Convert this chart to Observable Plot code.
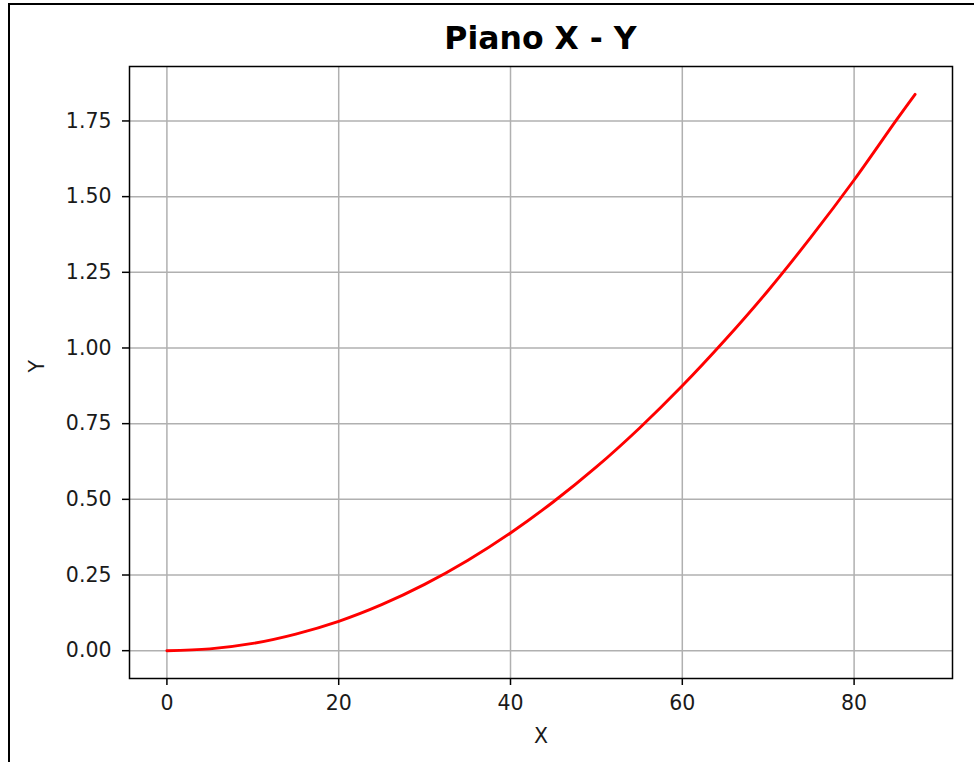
<!DOCTYPE html>
<html>
<head>
<meta charset="utf-8">
<script src="https://cdn.jsdelivr.net/npm/d3@7"></script>
<script src="https://cdn.jsdelivr.net/npm/@observablehq/plot@0.6"></script>
<style>
  html, body { margin: 0; padding: 0; background: #fff; }
  #wrap { position: relative; width: 974px; height: 762px; overflow: hidden; background: #fff; }
  #border { position: absolute; left: 7.5px; top: 3px; width: 1000px; height: 800px;
            border-left: 2.5px solid #000; border-top: 2.2px solid #000; box-sizing: border-box; pointer-events: none; }
  #title { position: absolute; left: 129px; width: 823px; top: 18px; text-align: center;
           font-family: "DejaVu Sans", sans-serif; font-weight: bold; font-size: 31.5px; line-height: 40px; color: #000; }
  #chart { position: absolute; left: 0; top: 0; }
</style>
</head>
<body>
<div id="wrap">
  <div id="chart"></div>
  <div id="title">Piano X - Y</div>
  <div id="border"></div>
</div>
<script>
// Values
const xValues = [0, 5, 10, 15, 20, 25, 30, 35, 40, 45, 50, 55, 60, 65, 70, 75, 80, 85, 87.1];
const yValues = [0, 0.006, 0.024, 0.055, 0.097, 0.152, 0.219, 0.298, 0.389, 0.492, 0.607, 0.735, 0.875, 1.027, 1.19, 1.367, 1.555, 1.756, 1.838];
const xTicks = [0, 20, 40, 60, 80];
const yTicks = [0, 0.25, 0.5, 0.75, 1.0, 1.25, 1.5, 1.75];
const titleText = "Piano X - Y";
const xLabel = "X";
const yLabel = "Y";

const data = xValues.map((x, i) => ({x, y: yValues[i]}));

// matplotlib-like 5% autoscale margins
const xMin = d3.min(xValues), xMax = d3.max(xValues);
const yMin = d3.min(yValues), yMax = d3.max(yValues);
const xPad = (xMax - xMin) * 0.05, yPad = (yMax - yMin) * 0.05;

const font = "DejaVu Sans, sans-serif";
const tickFont = 20.5;

const chart = Plot.plot({
  width: 974,
  height: 762,
  marginLeft: 129,
  marginRight: 22,
  marginTop: 66,
  marginBottom: 84,
  style: {fontFamily: font, fontSize: tickFont + "px", color: "#000", background: "#fff", overflow: "visible"},
  x: {domain: [xMin - xPad, xMax + xPad]},
  y: {domain: [yMin - yPad, yMax + yPad]},
  marks: [
    Plot.gridX(xTicks, {stroke: "#b0b0b0", strokeOpacity: 1, strokeWidth: 1.5}),
    Plot.gridY(yTicks, {stroke: "#b0b0b0", strokeOpacity: 1, strokeWidth: 1.5}),
    Plot.line(data, {x: "x", y: "y", stroke: "#ff0000", strokeWidth: 2.9, curve: "catmull-rom"}),
    Plot.frame({stroke: "#000", strokeWidth: 1.5}),
    Plot.axisX(xTicks, {tickSize: 7, tickPadding: 10, strokeWidth: 1.5, stroke: "#000", fontSize: tickFont, fill: "#1a1a1a", label: null, tickFormat: d3.format("d")}),
    Plot.axisY(yTicks, {tickSize: 7, tickPadding: 11, strokeWidth: 1.5, stroke: "#000", fontSize: tickFont, fill: "#1a1a1a", label: null, tickFormat: d3.format(".2f")}),
    Plot.text([xLabel], {frameAnchor: "bottom", dy: 64, fontSize: tickFont, fill: "#1a1a1a"}),
    Plot.text([yLabel], {frameAnchor: "left", dx: -92, rotate: -90, fontSize: tickFont, fill: "#1a1a1a"})
  ]
});
document.getElementById("chart").appendChild(chart);
document.getElementById("title").textContent = titleText;
</script>
</body>
</html>
